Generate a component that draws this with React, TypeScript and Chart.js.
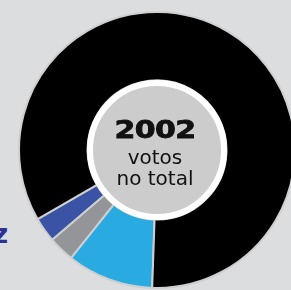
import React, { useEffect, useRef } from "react";
import { Chart, registerables } from "chart.js";

Chart.register(...registerables);

const categories = ["Opção 1", "Opção 2", "Opção 3", "Opção 4"];
const votes = [203, 61, 58, 1680];
const sliceColors = ["#29abe2", "#939598", "#3a53a4", "#000000"];
const totalLabel = "2002";
const subLabel1 = "votos";
const subLabel2 = "no total";

const centerCircle = {
  id: "centerCircle",
  afterDatasetsDraw(chart: any) {
    const meta = chart.getDatasetMeta(0);
    const arc = meta.data[0];
    if (!arc) return;
    const { x, y } = arc;
    const ctx = chart.ctx;
    ctx.save();
    ctx.beginPath();
    ctx.arc(x, y, 67, 0, Math.PI * 2);
    ctx.fillStyle = "#cccccc";
    ctx.fill();
    ctx.lineWidth = 6;
    ctx.strokeStyle = "#ffffff";
    ctx.stroke();
    ctx.restore();
  },
};

export default function App() {
  const ref = useRef<HTMLCanvasElement | null>(null);
  useEffect(() => {
    if (!ref.current) return;
    const chart = new Chart(ref.current, {
      type: "doughnut",
      data: {
        labels: categories,
        datasets: [
          {
            data: votes,
            backgroundColor: sliceColors,
            borderColor: "#cdcfd1",
            borderWidth: 2,
          },
        ],
      },
      options: {
        responsive: false,
        animation: false,
        rotation: 182,
        radius: 138,
        cutout: 70,
        layout: { padding: 0 },
        plugins: {
          legend: { display: false },
          tooltip: { enabled: false },
        },
      },
      plugins: [centerCircle],
    });
    return () => chart.destroy();
  }, []);

  const textBase: React.CSSProperties = {
    position: "absolute",
    left: 75,
    width: 160,
    textAlign: "center",
    fontFamily: "'DejaVu Sans', sans-serif",
    color: "#111111",
    whiteSpace: "nowrap",
  };

  return (
    <div
      style={{
        position: "fixed",
        left: 0,
        top: 0,
        width: 291,
        height: 290,
        background: "#dcdddf",
        overflow: "hidden",
      }}
    >
      <canvas
        ref={ref}
        width={280}
        height={280}
        style={{ position: "absolute", left: 17, top: 10, width: 280, height: 280 }}
      />
      <div
        style={{
          ...textBase,
          top: 118,
          fontSize: 24,
          lineHeight: "24px",
          fontWeight: 700,
          letterSpacing: -0.5,
          transform: "scaleX(1.25)",
          transformOrigin: "center",
          WebkitTextStroke: "0.8px #111111",
        }}
      >
        {totalLabel}
      </div>
      <div style={{ ...textBase, top: 147, fontSize: 20, lineHeight: "20px" }}>{subLabel1}</div>
      <div style={{ ...textBase, top: 168, fontSize: 20, lineHeight: "20px" }}>{subLabel2}</div>
      <div
        style={{
          position: "absolute",
          left: -7,
          top: 221,
          fontSize: 26,
          lineHeight: "26px",
          fontWeight: 700,
          fontFamily: "'DejaVu Sans', sans-serif",
          color: "#2e3192",
        }}
      >
        z
      </div>
    </div>
  );
}
